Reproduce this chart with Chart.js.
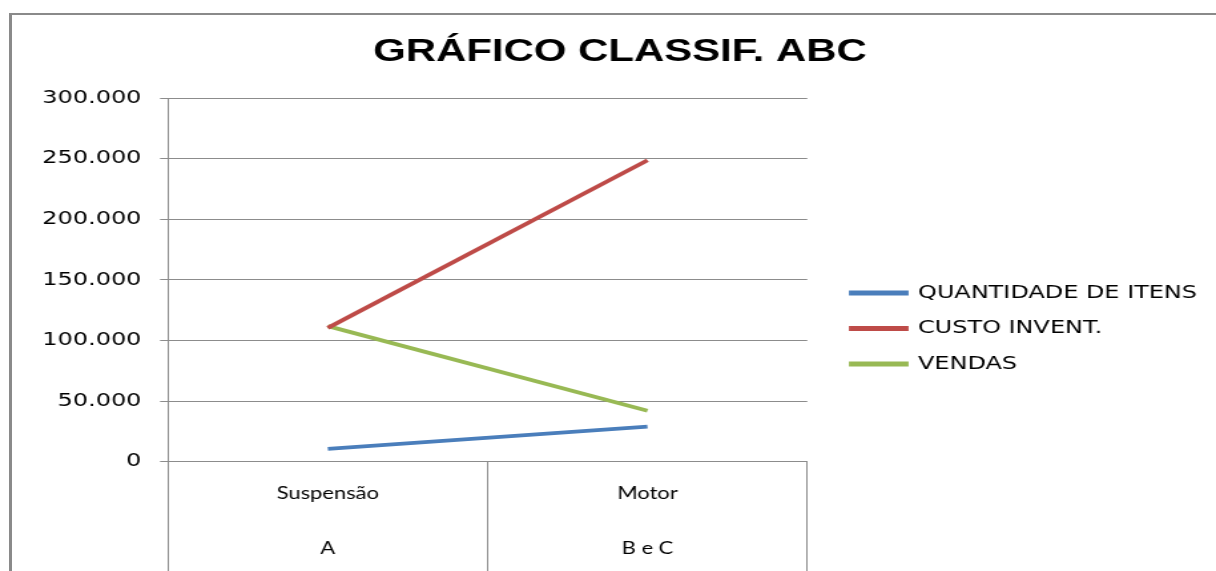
<!DOCTYPE html>
<html lang="pt-BR">
<head>
<meta charset="utf-8">
<title>Gráfico Classif. ABC</title>
<script src="https://cdn.jsdelivr.net/npm/chart.js@4/dist/chart.umd.min.js"></script>
<style>
  html, body { margin: 0; padding: 0; background: #fff; overflow: hidden; width: 1216px; height: 571px; }
  #frame { position: absolute; left: 9px; top: 13px; width: 1400px; height: 800px;
           border-left: 3px solid #8a8a8a; border-top: 2px solid #8a8a8a; pointer-events: none; }
  #chart { position: absolute; left: 0; top: 0; }
</style>
</head>
<body>
<!-- chart drawn narrow and stretched sideways, like the source picture -->
<canvas id="chart" width="914" height="647" style="width:1216px;height:647px"></canvas>
<div id="frame"></div>
<script>
// Data
const categories = [['Suspensão', 'A'], ['Motor', 'B e C']];
const quantidadeItens = [10500, 28900];
const custoInvent = [110400, 248600];
const vendas = [111800, 42000];

const seriesNames = ['QUANTIDADE DE ITENS', 'CUSTO INVENT.', 'VENDAS'];
const seriesColors = ['#4A7EBB', '#BE4B48', '#98B954'];

const gridColor = '#8c8c8c';
const bodyFont = 'DejaVu Sans';

function fmtThousands(v) {
  return String(v).replace(/\B(?=(\d{3})+(?!\d))/g, '.');
}

// move legend a bit right (and let it use the rest of the canvas), centre title like the original
const boxNudge = {
  id: 'boxNudge',
  afterLayout(chart) {
    const lg = chart.legend;
    if (lg) {
      lg.left += 15.7;
      lg.right = chart.width;
      lg.width = lg.right - lg.left;
    }
    const t = chart.titleBlock;
    if (t) {
      t.left += 29;
      t.right += 29;
    }
  }
};

const seriesData = [quantidadeItens, custoInvent, vendas];

new Chart(document.getElementById('chart'), {
  type: 'line',
  data: {
    labels: categories,
    datasets: seriesData.map((d, i) => ({
      label: seriesNames[i],
      data: d,
      borderColor: seriesColors[i],
      backgroundColor: seriesColors[i],
      borderWidth: 3.8,
      pointRadius: 0,
      pointHoverRadius: 0,
      tension: 0,
      fill: false
    }))
  },
  options: {
    responsive: false,
    animation: false,
    devicePixelRatio: 1,
    layout: { padding: { top: 10, right: 40, bottom: 0, left: 0 } },
    plugins: {
      tooltip: { enabled: false },
      title: {
        display: true,
        text: 'GRÁFICO CLASSIF. ABC',
        color: '#000',
        font: { family: 'Liberation Sans', size: 31.5, weight: 'bold', lineHeight: 1.2 },
        padding: { top: 23.1, bottom: 27.1 }
      },
      legend: {
        position: 'right',
        maxWidth: 267.2,
        labels: {
          color: '#000',
          font: { family: bodyFont, size: 18 },
          boxWidth: 41,
          boxHeight: 1,
          padding: 17.5
        }
      }
    },
    scales: {
      x: {
        offset: true,
        afterFit(scale) { scale.height = 185.3; },
        grid: { offset: true, drawOnChartArea: false, drawTicks: true, tickLength: 190, color: gridColor },
        border: { display: true, color: gridColor },
        ticks: {
          color: '#000',
          maxRotation: 0,
          autoSkip: false,
          padding: -185.2,
          font: { family: 'Lato', size: 16.5, lineHeight: '54.5px' }
        }
      },
      y: {
        min: 0,
        max: 300000,
        afterFit(scale) { scale.width = 126.3; },
        grid: { color: gridColor, tickLength: 6 },
        border: { display: true, color: gridColor },
        ticks: {
          stepSize: 50000,
          color: '#000',
          padding: 14,
          font: { family: bodyFont, size: 18 },
          callback: v => fmtThousands(v)
        }
      }
    }
  },
  plugins: [boxNudge]
});
</script>
</body>
</html>
